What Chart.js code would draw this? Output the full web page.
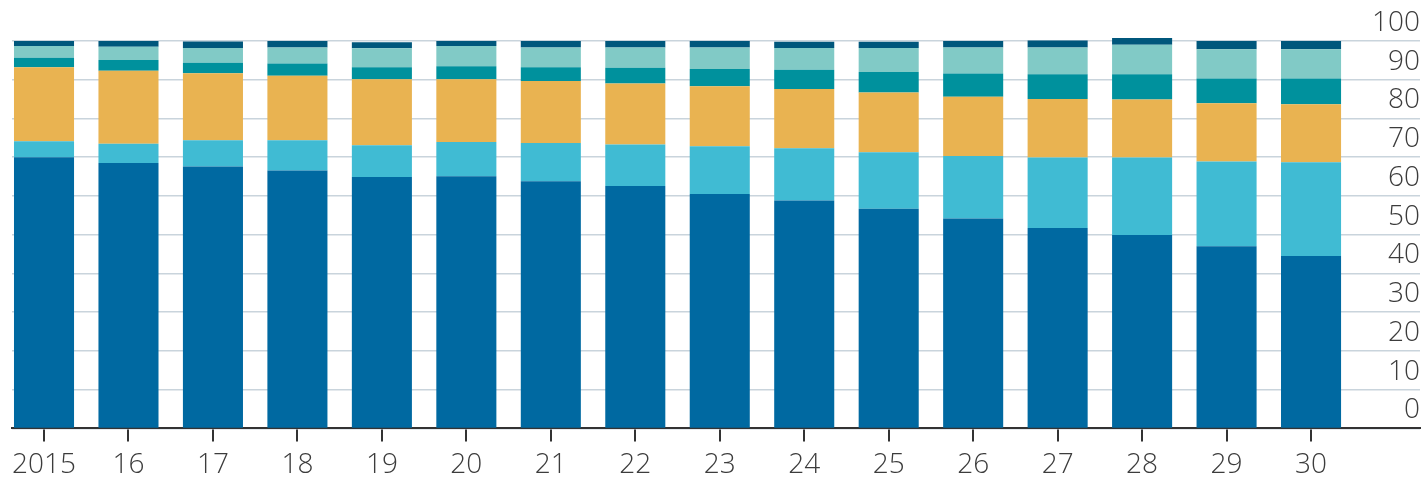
<!DOCTYPE html>
<html>
<head>
<meta charset="utf-8">
<script src="https://cdn.jsdelivr.net/npm/chart.js@4/dist/chart.umd.min.js"></script>
<style>
  html, body { margin: 0; padding: 0; background: #fff; }
  #wrap { width: 1426px; height: 480px; }
</style>
</head>
<body>
<div id="wrap"><canvas id="myChart"></canvas></div>
<script>
const years = ["2015", "16", "17", "18", "19", "20", "21", "22", "23", "24", "25", "26", "27", "28", "29", "30"];
const yTicks = [0, 10, 20, 30, 40, 50, 60, 70, 80, 90, 100];

// series, bottom to top
const darkBlue  = [70.0, 68.5, 67.6, 66.6, 64.9, 65.1, 63.8, 62.6, 60.5, 58.8, 56.7, 54.2, 51.7, 49.9, 47.0, 44.5];
const lightBlue = [4.1, 5.0, 6.8, 7.8, 8.2, 8.8, 9.9, 10.7, 12.3, 13.5, 14.6, 16.1, 18.2, 20.0, 21.9, 24.2];
const orange    = [19.1, 18.8, 17.3, 16.6, 17.0, 16.2, 16.0, 15.7, 15.5, 15.3, 15.4, 15.3, 15.1, 15.0, 15.0, 15.0];
const teal      = [2.5, 2.8, 2.7, 3.2, 3.1, 3.4, 3.5, 4.1, 4.5, 5.0, 5.3, 6.0, 6.4, 6.5, 6.4, 6.6];
const lightTeal = [3.0, 3.4, 3.8, 4.1, 4.9, 5.2, 5.1, 5.2, 5.5, 5.6, 6.2, 6.7, 6.9, 7.6, 7.6, 7.6];
const navy      = [1.3, 1.5, 1.7, 1.7, 1.6, 1.3, 1.7, 1.7, 1.7, 1.6, 1.6, 1.7, 1.8, 1.8, 2.1, 2.1];

function toPoints(values) {
  return values.map((v, i) => ({ x: i, y: v }));
}

const series = [
  { data: darkBlue, color: "#0069a1" },
  { data: lightBlue, color: "#40bbd3" },
  { data: orange, color: "#e9b351" },
  { data: teal, color: "#00919d" },
  { data: lightTeal, color: "#81cac6" },
  { data: navy, color: "#00577c" },
];

const data = {
  datasets: series.map((s) => ({
    data: toPoints(s.data),
    backgroundColor: s.color,
    borderWidth: 0,
    barPercentage: 0.79,
    categoryPercentage: 0.9,
    clip: false,
  })),
};

const font = { family: "'Open Sans', 'Noto Sans', sans-serif", size: 28, weight: 300 };

const config = {
  type: "bar",
  data: data,
  options: {
    responsive: true,
    maintainAspectRatio: false,
    animation: false,
    layout: { padding: { left: 12, right: 6, top: 41, bottom: -9 } },
    plugins: { legend: { display: false }, tooltip: { enabled: false } },
    scales: {
      x: {
        type: "linear",
        stacked: true,
        offset: false,
        min: -0.379,
        max: 16.29,
        afterBuildTicks: (scale) => {
          scale.ticks = years.map((_, i) => ({ value: i }));
        },
        grid: { offset: false, drawOnChartArea: false, drawTicks: true, tickLength: 13, color: "#333", lineWidth: 2 },
        border: { display: true, color: "#333", width: 2 },
        ticks: {
          autoSkip: false,
          maxRotation: 0,
          padding: 7,
          color: "#3c3c3c",
          font: font,
          callback: (v) => years[v],
        },
      },
      y: {
        position: "right",
        stacked: true,
        min: 0,
        max: 100,
        afterBuildTicks: (scale) => {
          scale.ticks = yTicks.map((v) => ({ value: v }));
        },
        grid: { drawTicks: false, color: "#c9d4dc", lineWidth: 1.5 },
        border: { display: false },
        ticks: {
          mirror: true,
          padding: 0,
          labelOffset: -18,
          color: "#3c3c3c",
          font: font,
        },
      },
    },
  },
};

const chart = new Chart(document.getElementById("myChart"), config);
</script>
</body>
</html>
